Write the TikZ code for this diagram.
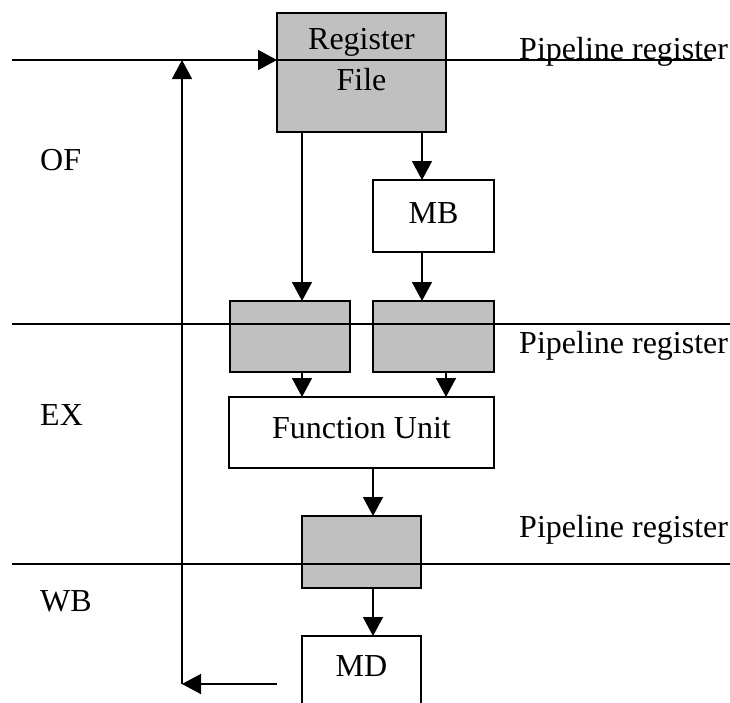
\documentclass[tikz,border=0pt]{standalone}
\usepackage{fontspec}
\setmainfont{Liberation Serif}
\usetikzlibrary{arrows.meta}
\definecolor{regfill}{HTML}{C0C0C0}
\tikzset{
  unit/.style={draw=black, line width=1.4pt, inner sep=0pt, outer sep=0pt},
  regbox/.style={unit, fill=regfill},
  plainbox/.style={unit, fill=white},
  lbl/.style={inner sep=0pt, font=\fontsize{32}{36}\selectfont},
  wire/.style={line width=1.4pt},
  arr/.style={wire, -{Triangle[length=19pt,width=20pt]}}
}
\begin{document}
\begin{tikzpicture}[x=1pt,y=-1pt]
\useasboundingbox (0,0) rectangle (730,702);
\clip (0,0) rectangle (730,702);
\fill[white] (0,0) rectangle (730,702);

% stage blocks
\node[regbox, minimum width=169pt, minimum height=119pt] (rf) at (361.5,72.5) {};
\node[plainbox, minimum width=121pt, minimum height=72pt] (mb) at (433.5,216) {};
\node[regbox, minimum width=120pt, minimum height=71pt] (pa) at (290,336.5) {};
\node[regbox, minimum width=121pt, minimum height=71pt] (pb) at (433.5,336.5) {};
\node[plainbox, minimum width=265pt, minimum height=71pt] (fu) at (361.5,432.5) {};
\node[regbox, minimum width=119pt, minimum height=72pt] (pc) at (361.5,552) {};
\node[plainbox, minimum width=119pt, minimum height=90pt] (md) at (361.5,681) {};

% block texts
\node[lbl] (rft1) at (361.5,42) {Register};
\node[lbl] (rft2) at (361.5,80) {File};
\node[lbl] (mbt) at (433.5,213) {MB};
\node[lbl] (fut) at (361.5,428) {Function Unit};
\node[lbl] (mdt) at (361.5,666) {MD};

% stage names
\node[lbl, anchor=base west] (of) at (40,170) {OF};
\node[lbl, anchor=base west] (ex) at (40,425) {EX};
\node[lbl, anchor=base west] (wb) at (40,611) {WB};

% pipeline register labels
\node[lbl, anchor=base west] (pr1) at (519,59) {Pipeline register};
\node[lbl, anchor=base west] (pr2) at (519,353) {Pipeline register};
\node[lbl, anchor=base west] (pr3) at (519,537) {Pipeline register};

% stage boundaries
\coordinate (l1) at (12,60);
\coordinate (r1) at (712,60);
\coordinate (l2) at (12,324);
\coordinate (r2) at (730,324);
\coordinate (l3) at (12,564);
\coordinate (r3) at (730,564);
\draw[arr] (l1) -- (l1 -| rf.west);
\draw[wire] (l1 -| rf.west) -- (r1);
\draw[wire] (l2) -- (r2);
\draw[wire] (l3) -- (r3);

% columns of the data paths
\coordinate (xa) at (302,0);
\coordinate (xb) at (422,0);
\coordinate (xc) at (446,0);
\coordinate (xd) at (373,0);
\coordinate (xf) at (182,0);

\draw[arr] (rf.south -| xa) -- (pa.north -| xa);
\draw[arr] (rf.south -| xb) -- (mb.north -| xb);
\draw[arr] (mb.south -| xb) -- (pb.north -| xb);
\draw[arr] (pa.south -| xa) -- (fu.north -| xa);
\draw[arr] (pb.south -| xc) -- (fu.north -| xc);
\draw[arr] (fu.south -| xd) -- (pc.north -| xd);
\draw[arr] (pc.south -| xd) -- (md.north -| xd);

% write-back path
\coordinate (wbs) at (277,684);
\coordinate (wbc) at (182,684);
\draw[arr] (wbs) -- (wbc);
\draw[arr] (wbc) -- (l1 -| xf);
\end{tikzpicture}
\end{document}
